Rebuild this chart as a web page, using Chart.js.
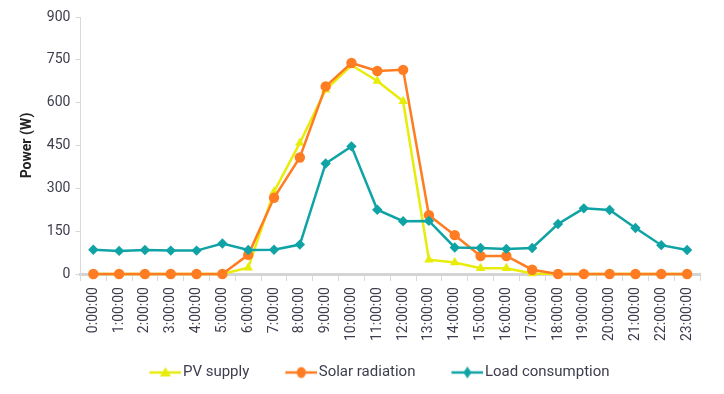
<!DOCTYPE html>
<html>
<head>
<meta charset="utf-8">
<script src="https://cdn.jsdelivr.net/npm/chart.js@4/dist/chart.umd.min.js"></script>
<style>
  html, body { margin: 0; padding: 0; background: #fff; }
  #wrap { width: 724px; height: 394px; }
</style>
</head>
<body>
<div id="wrap"><canvas id="powerChart" width="724" height="394"></canvas></div>
<script>
const hours = ["0:00:00","1:00:00","2:00:00","3:00:00","4:00:00","5:00:00","6:00:00","7:00:00",
  "8:00:00","9:00:00","10:00:00","11:00:00","12:00:00","13:00:00","14:00:00","15:00:00",
  "16:00:00","17:00:00","18:00:00","19:00:00","20:00:00","21:00:00","22:00:00","23:00:00"];

const pvSupply = [0, 0, 0, 0, 0, 0, 22, 288, 459, 645, 731, 676, 605, 50, 40, 20, 20, 2, 0, 0, 0, 0, 0, 0];
const solarRadiation = [0, 0, 0, 0, 0, 0, 67, 267, 408, 657, 739, 711, 715, 206, 136, 63, 63, 15, 0, 0, 0, 0, 0, 0];
const loadConsumption = [85, 81, 84, 82, 82, 107, 84, 85, 103, 387, 447, 225, 185, 186, 93, 91, 88, 91, 175, 230, 224, 161, 101, 84];

const yTicks = [0, 150, 300, 450, 600, 750, 900];

const YELLOW = "#e8ec0a";
const ORANGE = "#ff7c22";
const TEAL = "#10a3a6";
const TEXT = "#3d3d4d";

const ICON_BOX = 50;

// line+marker image for the legend, pushed to the right side of its box
const legendIcon = (color, style) => {
    const c = document.createElement("canvas");
    c.width = ICON_BOX + 12; c.height = 14;
    const g = c.getContext("2d");
    const x0 = c.width - 32, cx = x0 + 16;
    g.strokeStyle = color; g.lineWidth = 2.5;
    g.beginPath(); g.moveTo(x0, 7); g.lineTo(x0 + 32, 7); g.stroke();
    g.fillStyle = color;
    g.beginPath();
    if (style === "triangle") { g.moveTo(cx, 1.5); g.lineTo(cx + 5.5, 11); g.lineTo(cx - 5.5, 11); }
    else if (style === "circle") { g.ellipse(cx, 7, 4.5, 5.5, 0, 0, Math.PI * 2); }
    else { g.moveTo(cx, 1); g.lineTo(cx + 4, 7); g.lineTo(cx, 13); g.lineTo(cx - 4, 7); }
    g.closePath(); g.fill();
    return c;
};

// nudge the legend a bit right, like the original
const legendShift = {
    id: "legendShift",
    afterLayout: chart => { chart.legend.left += 12; chart.legend.right += 12; }
};

const makeSet = (label, data, color, style, order, radius) => ({
    label, data, order,
    borderColor: color, backgroundColor: color,
    borderWidth: 2.5,
    pointStyle: style, pointRadius: radius, pointHoverRadius: radius,
    pointBorderWidth: 0,
    tension: 0, clip: false
});

const ctx = document.getElementById("powerChart").getContext("2d");
new Chart(ctx, {
    type: "line",
    data: {
        labels: hours,
        datasets: [
            makeSet("PV supply", pvSupply, YELLOW, "triangle", 2, 5.5),
            makeSet("Solar radiation", solarRadiation, ORANGE, "circle", 1, 5.2),
            makeSet("Load consumption", loadConsumption, TEAL, "rectRot", 0, 5.2)
        ]
    },
    plugins: [legendShift],
    options: {
        responsive: false,
        animation: false,
        layout: { padding: { top: 17, right: 24, left: 11, bottom: 4 } },
        plugins: {
            tooltip: { enabled: false },
            legend: {
                position: "bottom",
                labels: {
                    usePointStyle: true,
                    pointStyleWidth: ICON_BOX,
                    padding: 12,
                    color: TEXT,
                    font: { family: "Roboto", size: 15 },
                    generateLabels: chart => chart.data.datasets.map((ds, i) => ({
                        text: ds.label,
                        datasetIndex: i,
                        fontColor: TEXT,
                        pointStyle: legendIcon(ds.borderColor, ds.pointStyle),
                        lineWidth: 0,
                        strokeStyle: ds.borderColor,
                        fillStyle: ds.borderColor
                    }))
                }
            }
        },
        scales: {
            x: {
                offset: true,
                afterFit: axis => { axis.height += 6; },
                grid: { display: true, drawOnChartArea: false, offset: true, tickLength: 7, color: "#d9d9d9" },
                border: { color: "#d4d4d4", width: 3 },
                ticks: {
                    minRotation: 90, maxRotation: 90, autoSkip: false,
                    color: TEXT, font: { family: "Roboto", size: 14 }, padding: 6
                }
            },
            y: {
                min: 0, max: 900,
                afterBuildTicks: axis => { axis.ticks = yTicks.map(v => ({ value: v })); },
                grid: { display: true, drawOnChartArea: false, tickLength: 5, color: "#d9d9d9" },
                border: { color: "#d9d9d9", width: 1 },
                ticks: { color: TEXT, font: { family: "Roboto", size: 14 }, padding: 5 },
                title: {
                    display: true, text: "Power (W)", color: "#222",
                    font: { family: "Roboto", size: 14, weight: "bold" }, padding: { top: 8, bottom: 6 }
                }
            }
        }
    }
});
</script>
</body>
</html>
